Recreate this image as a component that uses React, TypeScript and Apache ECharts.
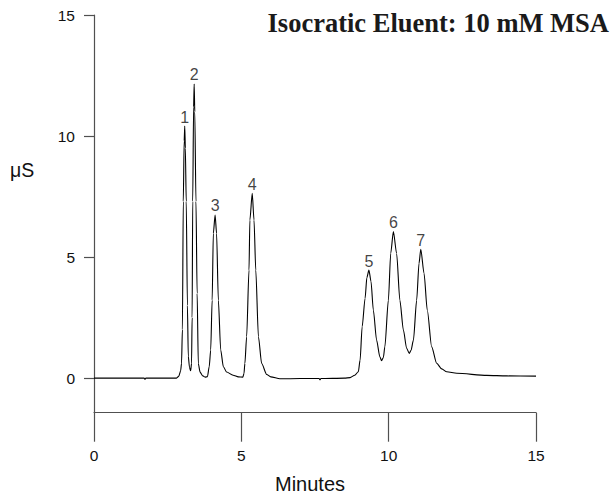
import React, { useEffect, useRef } from "react";
import * as echarts from "echarts";

// Chromatogram trace (minutes, µS)
const timeMin: number[] = [
  0, 1.7, 1.73, 1.76, 2.8, 2.88, 2.94, 2.97, 3.0, 3.03, 3.06, 3.08, 3.1, 3.13, 3.17, 3.2, 3.24, 3.28,
  3.31, 3.33, 3.35, 3.38, 3.4, 3.42, 3.46, 3.5, 3.54, 3.6, 3.68, 3.77, 3.85, 3.91, 3.96, 4.01, 4.05,
  4.11, 4.16, 4.22, 4.3, 4.39, 4.5, 4.72, 4.9, 5.05, 5.09, 5.12, 5.18, 5.26, 5.29, 5.37, 5.43, 5.49,
  5.58, 5.69, 5.86, 6.0, 6.31, 7.0, 7.64, 7.67, 7.7, 8.5, 8.69, 8.85, 8.97, 9.03, 9.1, 9.2, 9.26,
  9.33, 9.4, 9.48, 9.59, 9.7, 9.76, 9.82, 9.87, 9.99, 10.07, 10.16, 10.27, 10.38, 10.5, 10.61, 10.7,
  10.76, 10.84, 10.95, 11.03, 11.09, 11.2, 11.31, 11.46, 11.63, 11.8, 11.97, 12.31, 13.33, 14.0, 15.0,
];
const signalUS: number[] = [
  0, 0, -0.05, 0, 0, 0.08, 0.3, 0.6, 2.0, 7.3, 9.8, 10.41, 9.5, 7.3, 3.0, 0.9, 0.45, 0.3,
  0.6, 2.5, 7.3, 11.2, 12.15, 11.0, 7.3, 3.5, 0.6, 0.25, 0.1, 0.04, 0.06, 0.47, 1.16, 3.22, 5.98,
  6.74, 5.98, 3.22, 1.16, 0.47, 0.25, 0.12, 0.05, 0.04, 0.19, 0.6, 1.71, 4.46, 6.53, 7.63, 6.53, 4.46,
  1.71, 0.6, 0.15, 0.05, -0.03, -0.02, -0.02, -0.07, -0.02, 0, 0.02, 0.12, 0.26, 0.74, 2.12, 3.3, 4.15,
  4.46, 4.0, 2.81, 1.57, 0.88, 0.72, 0.85, 1.29, 3.22, 5.16, 6.05, 5.15, 3.22, 1.98, 1.23, 1.02,
  1.15, 1.57, 3.22, 4.74, 5.32, 4.33, 2.81, 1.29, 0.61, 0.38, 0.26, 0.2, 0.11, 0.09, 0.08,
];

// Peak labels
const peakNames: string[] = ["1", "2", "3", "4", "5", "6", "7"];
const peakTimes: number[] = [3.08, 3.4, 4.11, 5.37, 9.33, 10.16, 11.09];
const peakHeights: number[] = [10.41, 12.15, 6.74, 7.63, 4.46, 6.05, 5.32];

// Axes
const xTicks: number[] = [0, 5, 10, 15];
const yTicks: number[] = [0, 5, 10, 15];
const yMin = -1.43;
const yMax = 15;

const titleText = "Isocratic Eluent: 10 mM MSA";
const xName = "Minutes";
const yName = "μS";

const axisColor = "#505050";
const sans = "'Liberation Sans', Arial, sans-serif";

export default function App() {
  const ref = useRef<HTMLDivElement>(null);

  useEffect(() => {
    if (!ref.current) return;
    const chart = echarts.init(ref.current, undefined, { renderer: "svg" });
    const trace = timeMin.map((t, i) => [t, signalUS[i]]);
    const peaks = peakTimes.map((t, i) => ({ value: [t, peakHeights[i]], name: peakNames[i] }));

    chart.setOption({
      animation: false,
      backgroundColor: "#ffffff",
      title: {
        text: titleText,
        right: 2,
        top: 9,
        padding: 0,
        textStyle: {
          fontFamily: "'Liberation Serif', 'Times New Roman', serif",
          fontWeight: "bold",
          fontSize: 26.5,
          color: "#1a1a1a",
        },
      },
      grid: {
        left: 94,
        right: 75,
        top: 15,
        bottom: 82.3,
        containLabel: false,
        outerBoundsMode: "none",
      },
      xAxis: {
        type: "value",
        min: 0,
        max: 15,
        interval: 5,
        name: xName,
        nameLocation: "middle",
        nameGap: 61,
        nameTextStyle: { fontFamily: sans, fontSize: 20, color: "#111", padding: [0, 10, 0, 0] },
        axisLine: { show: true, onZero: false, lineStyle: { color: axisColor, width: 1.2 } },
        axisTick: { show: true, length: 29, lineStyle: { color: axisColor, width: 1.2 }, customValues: xTicks },
        axisLabel: { margin: 35, fontFamily: sans, fontSize: 15.5, color: "#111", customValues: xTicks },
        splitLine: { show: false },
      },
      yAxis: {
        type: "value",
        min: yMin,
        max: yMax,
        axisLine: { show: true, onZero: false, lineStyle: { color: axisColor, width: 1.2 } },
        axisTick: { show: true, length: 10, lineStyle: { color: axisColor, width: 1.2 }, customValues: yTicks },
        axisLabel: { margin: 19, fontFamily: sans, fontSize: 15.5, color: "#111", customValues: yTicks },
        splitLine: { show: false },
      },
      graphic: [
        {
          type: "text",
          left: 10,
          top: 160,
          style: { text: yName, fontFamily: sans, fontSize: 19.5, fill: "#111" },
        },
      ],
      series: [
        {
          type: "line",
          data: trace,
          showSymbol: false,
          symbol: "none",
          smooth: 0.25,
          smoothMonotone: "x",
          lineStyle: { color: "#000000", width: 1.1 },
          silent: true,
        },
        {
          type: "scatter",
          data: peaks,
          symbolSize: 0,
          silent: true,
          itemStyle: { color: "#111111" },
          label: {
            show: true,
            position: "top",
            distance: 1,
            formatter: (p: any) => p.name,
            fontFamily: sans,
            fontSize: 16,
            color: "#111111",
            textBorderWidth: 0,
          },
        },
      ],
    });

    return () => chart.dispose();
  }, []);

  return (
    <div
      ref={ref}
      style={{ position: "absolute", left: 0, top: 0, width: 611, height: 495 }}
    />
  );
}
